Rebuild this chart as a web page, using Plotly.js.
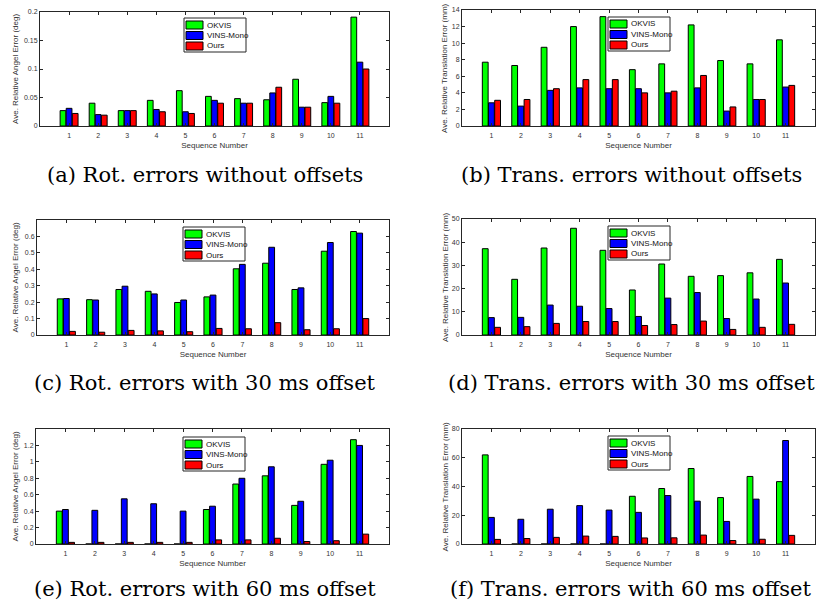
<!DOCTYPE html>
<html>
<head>
<meta charset="utf-8">
<script src="https://cdn.plot.ly/plotly-3.0.1.min.js"></script>
<style>html,body{margin:0;padding:0;background:#fff;}#chart{width:817px;height:610px;}</style>
</head>
<body>
<div id="chart"></div>
<script>
// ---------- data ----------
const sequences = [1, 2, 3, 4, 5, 6, 7, 8, 9, 10, 11];
const seriesNames = ['OKVIS', 'VINS-Mono', 'Ours'];

// (a) rotation errors without offsets (deg)
const rot0_okvis = [0.027, 0.040, 0.027, 0.045, 0.062, 0.052, 0.048, 0.046, 0.082, 0.041, 0.191];
const rot0_vins  = [0.031, 0.020, 0.027, 0.029, 0.025, 0.045, 0.040, 0.058, 0.033, 0.052, 0.112];
const rot0_ours  = [0.022, 0.019, 0.027, 0.025, 0.022, 0.040, 0.040, 0.068, 0.033, 0.040, 0.100];
// (b) translation errors without offsets (mm)
const trans0_okvis = [7.7, 7.3, 9.5, 12.0, 13.2, 6.8, 7.5, 12.2, 7.9, 7.5, 10.4];
const trans0_vins  = [2.8, 2.4, 4.3, 4.6, 4.5, 4.5, 4.0, 4.6, 1.8, 3.2, 4.7];
const trans0_ours  = [3.1, 3.2, 4.5, 5.6, 5.6, 4.0, 4.2, 6.1, 2.3, 3.2, 4.9];
// (c) rotation errors with 30 ms offset (deg)
const rot30_okvis = [0.220, 0.215, 0.277, 0.266, 0.198, 0.232, 0.403, 0.437, 0.277, 0.510, 0.630];
const rot30_vins  = [0.222, 0.213, 0.297, 0.250, 0.213, 0.243, 0.430, 0.534, 0.287, 0.563, 0.620];
const rot30_ours  = [0.022, 0.017, 0.028, 0.025, 0.020, 0.040, 0.038, 0.075, 0.032, 0.038, 0.100];
// (d) translation errors with 30 ms offset (mm)
const trans30_okvis = [37.2, 24.0, 37.5, 46.0, 36.5, 19.4, 30.6, 25.3, 25.6, 26.8, 32.6];
const trans30_vins  = [7.5, 7.6, 12.9, 12.4, 11.4, 8.0, 15.9, 18.3, 7.1, 15.5, 22.4];
const trans30_ours  = [3.3, 3.6, 5.0, 5.8, 5.8, 4.1, 4.5, 6.0, 2.4, 3.3, 4.6];
// (e) rotation errors with 60 ms offset (deg)
const rot60_okvis = [0.40, 0, 0, 0, 0, 0.42, 0.73, 0.83, 0.47, 0.97, 1.27];
const rot60_vins  = [0.42, 0.41, 0.55, 0.49, 0.40, 0.46, 0.80, 0.94, 0.52, 1.02, 1.20];
const rot60_ours  = [0.02, 0.02, 0.02, 0.02, 0.02, 0.05, 0.05, 0.07, 0.03, 0.04, 0.12];
// (f) translation errors with 60 ms offset (mm)
const trans60_okvis = [62.0, 0, 0, 0, 0, 33.2, 38.6, 52.5, 32.3, 47.0, 43.4];
const trans60_vins  = [18.5, 17.2, 24.2, 26.7, 23.6, 22.0, 33.7, 29.8, 15.7, 31.2, 72.0];
const trans60_ours  = [3.2, 3.8, 4.6, 5.5, 5.3, 4.2, 4.3, 6.2, 2.4, 3.3, 6.0];

const rotTitle = 'Ave. Relative Angel Error (deg)';
const transTitle = 'Ave. Relative Translation Error (mm)';
const xTitle = 'Sequence Number';
const captions = [
  '(a) Rot. errors without offsets',
  '(b) Trans. errors without offsets',
  '(c) Rot. errors with 30 ms offset',
  '(d) Trans. errors with 30 ms offset',
  '(e) Rot. errors with 60 ms offset',
  '(f) Trans. errors with 60 ms offset'
];

// ---------- layout helpers ----------
const W = 817, H = 610;
const colors = ['#00ff00', '#0000ff', '#ff0000'];
const panels = [
  {vals: [rot0_okvis, rot0_vins, rot0_ours], yt: rotTitle, yr: [0, 0.2], tv: [0, 0.05, 0.1, 0.15, 0.2],
   px: [40, 389], py: [12, 126], leg: [184, 18], cap: [205, 175], ytx: 15},
  {vals: [trans0_okvis, trans0_vins, trans0_ours], yt: transTitle, yr: [0, 14], tv: [0, 2, 4, 6, 8, 10, 12, 14],
   px: [462, 815], py: [10, 126], leg: [608, 17], cap: [631, 175], ytx: 445},
  {vals: [rot30_okvis, rot30_vins, rot30_ours], yt: rotTitle, yr: [0, 0.7], tv: [0, 0.1, 0.2, 0.3, 0.4, 0.5, 0.6],
   px: [37, 389], py: [220, 335], leg: [183, 227], cap: [205, 383], ytx: 15},
  {vals: [trans30_okvis, trans30_vins, trans30_ours], yt: transTitle, yr: [0, 50], tv: [0, 10, 20, 30, 40, 50],
   px: [462, 815], py: [219, 335], leg: [608, 226], cap: [631, 383], ytx: 445},
  {vals: [rot60_okvis, rot60_vins, rot60_ours], yt: rotTitle, yr: [0, 1.4], tv: [0, 0.2, 0.4, 0.6, 0.8, 1, 1.2],
   px: [36, 389], py: [429, 544], leg: [183, 437], cap: [205, 589], ytx: 15},
  {vals: [trans60_okvis, trans60_vins, trans60_ours], yt: transTitle, yr: [0, 80], tv: [0, 20, 40, 60, 80],
   px: [462, 815], py: [429, 544], leg: [608, 436], cap: [631, 589], ytx: 445}
];

const traces = [];
const layout = {
  width: W, height: H,
  margin: {l: 0, r: 0, t: 0, b: 0, pad: 0},
  paper_bgcolor: '#fff', plot_bgcolor: '#fff',
  barmode: 'group', bargap: 0.37, bargroupgap: 0.06,
  showlegend: false,
  font: {family: 'Liberation Sans, Arial, sans-serif', size: 7, color: '#333'},
  shapes: [], annotations: []
};

const fx = p => p / W;
const fy = p => 1 - p / H;

panels.forEach((p, i) => {
  const n = i === 0 ? '' : String(i + 1);
  const xa = 'x' + n, ya = 'y' + n;
  p.vals.forEach((v, k) => {
    traces.push({
      type: 'bar', x: sequences, y: v, name: seriesNames[k],
      xaxis: xa, yaxis: ya,
      marker: {color: colors[k], line: {color: '#000', width: 1}},
      hoverinfo: 'x+y+name'
    });
  });
  const common = {
    showline: true, linecolor: '#262626', linewidth: 1, mirror: 'allticks',
    ticks: 'inside', ticklen: 3, tickwidth: 1, tickcolor: '#262626',
    showgrid: false, zeroline: false, fixedrange: true,
    tickfont: {size: 7, color: '#333', family: 'Liberation Sans, Arial, sans-serif'}
  };
  layout['xaxis' + n] = Object.assign({}, common, {
    domain: [fx(p.px[0]), fx(p.px[1])], anchor: ya,
    range: [0, 12], tickmode: 'array', tickvals: sequences, ticklabelstandoff: 3,
    title: {text: xTitle, font: {size: 8, color: '#333'}, standoff: 3}
  });
  layout['yaxis' + n] = Object.assign({}, common, {
    domain: [fy(p.py[1]), fy(p.py[0])], anchor: xa,
    range: p.yr, tickmode: 'array', tickvals: p.tv
  });
  // y-axis title (rotated text placed beside the tick labels)
  layout.annotations.push({xref: 'paper', yref: 'paper', x: fx(p.ytx), y: fy((p.py[0] + p.py[1]) / 2),
    xanchor: 'center', yanchor: 'middle', textangle: -90, showarrow: false, text: p.yt,
    font: {size: 8, color: '#333', family: 'Liberation Sans, Arial, sans-serif'}});
  // legend box (drawn with shapes + annotations)
  const L = p.leg[0], T = p.leg[1];
  layout.shapes.push({type: 'rect', xref: 'paper', yref: 'paper',
    x0: fx(L), x1: fx(L + 62), y0: fy(T + 34), y1: fy(T),
    line: {color: '#262626', width: 1}, fillcolor: '#fff', layer: 'above'});
  seriesNames.forEach((s, k) => {
    const cy = T + 7 + k * 10.5;
    layout.shapes.push({type: 'rect', xref: 'paper', yref: 'paper',
      x0: fx(L + 2), x1: fx(L + 19), y0: fy(cy + 4), y1: fy(cy - 4),
      line: {color: '#000', width: 1}, fillcolor: colors[k], layer: 'above'});
    layout.annotations.push({xref: 'paper', yref: 'paper', x: fx(L + 20.5), y: fy(cy),
      xanchor: 'left', yanchor: 'middle', showarrow: false, text: s,
      font: {size: 8, color: '#111', family: 'Liberation Sans, Arial, sans-serif'}});
  });
  // caption
  layout.annotations.push({xref: 'paper', yref: 'paper', x: fx(p.cap[0]), y: fy(p.cap[1]),
    xanchor: 'center', yanchor: 'middle', showarrow: false, text: captions[i],
    font: {size: 21, color: '#000', family: 'DejaVu Serif, serif'}});
});

Plotly.newPlot('chart', traces, layout, {displayModeBar: false, staticPlot: true});
</script>
</body>
</html>
